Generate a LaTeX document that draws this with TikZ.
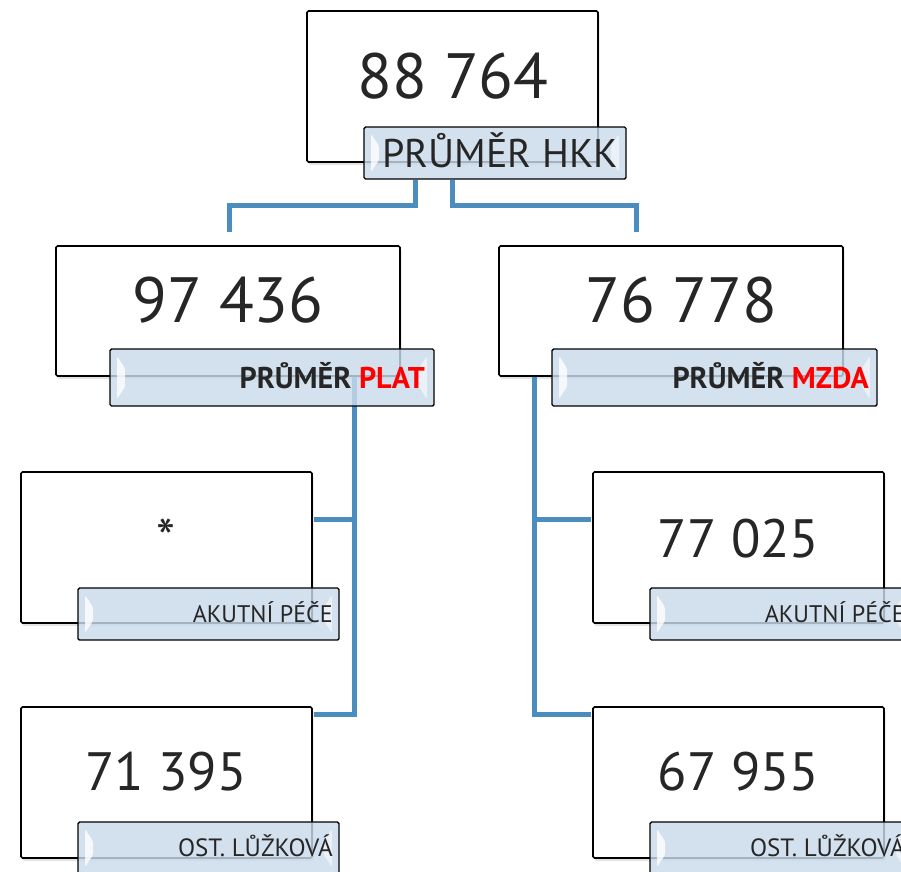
\documentclass[tikz,border=0pt]{standalone}
\usepackage{fontspec}
\setmainfont{PT Sans}
\usetikzlibrary{calc,shadows}
\definecolor{ink}{HTML}{262626}
\definecolor{labfill}{HTML}{CADAEA}
\definecolor{linkblue}{HTML}{4A8DBE}
\definecolor{hot}{HTML}{FF0000}
\tikzset{
  numbox/.style={draw=black, line width=1.6pt, fill=white, rounded corners=1.5pt,
    inner sep=0pt, drop shadow={shadow xshift=1.5pt, shadow yshift=-3pt, opacity=0.22}},
  tagbox/.style={draw=black, line width=1.4pt, fill=labfill, fill opacity=0.82,
    rounded corners=1.5pt, inner sep=0pt,
    path picture={
      \fill[white, opacity=0.8]
        ([xshift=7pt,yshift=-7pt]path picture bounding box.north west) --
        ([xshift=15pt,yshift=-19pt]path picture bounding box.north west) --
        ([xshift=15pt,yshift=19pt]path picture bounding box.south west) --
        ([xshift=7pt,yshift=7pt]path picture bounding box.south west) -- cycle;
      \fill[white, opacity=0.55]
        ([xshift=-7pt,yshift=-7pt]path picture bounding box.north east) --
        ([xshift=-15pt,yshift=-19pt]path picture bounding box.north east) --
        ([xshift=-15pt,yshift=19pt]path picture bounding box.south east) --
        ([xshift=-7pt,yshift=7pt]path picture bounding box.south east) -- cycle;
    }},
  bignum/.style={inner sep=0pt, anchor=base, text=ink, font=\fontsize{64}{70}\selectfont},
  midnum/.style={inner sep=0pt, anchor=base, text=ink, font=\fontsize{54}{58}\selectfont},
  tagtext/.style={inner sep=0pt, anchor=base east, text=ink},
  conn/.style={draw=linkblue, line width=5pt}
}
\begin{document}
\begin{tikzpicture}[x=1pt, y=-1pt]
  \useasboundingbox (0,0) rectangle (901,871);
  \clip (0,0) rectangle (901,871);

  % value boxes
  \node[numbox, minimum width=291, minimum height=151] (b0) at (452.5,86.5) {};
  \node[numbox, minimum width=344, minimum height=130] (b1) at (228,311) {};
  \node[numbox, minimum width=344, minimum height=130] (b2) at (671,311) {};
  \node[numbox, minimum width=291, minimum height=151] (b3) at (166.5,547.5) {};
  \node[numbox, minimum width=291, minimum height=151] (b4) at (738.5,547.5) {};
  \node[numbox, minimum width=291, minimum height=151] (b5) at (166.5,782.5) {};
  \node[numbox, minimum width=291, minimum height=151] (b6) at (738.5,782.5) {};

  % connectors
  \coordinate (e1) at (229,232);
  \coordinate (e2) at (636,232);
  \draw[conn] ($(b0.south west)+(109,17)$) -- ++(0,26) -| (e1);
  \draw[conn] ($(b0.south west)+(146,17)$) -- ++(0,26) -| (e2);

  \coordinate (t1) at ($(b1.south west)+(299,0)$);
  \coordinate (h3) at ($(b3.north east)+(1,48)$);
  \draw[conn] (t1) |- ($(b5.north east)+(1,8)$);
  \draw[conn] (h3) -- (h3 -| t1);

  \coordinate (t2) at ($(b2.south west)+(36,0)$);
  \coordinate (h4) at ($(b4.north west)+(-1,48)$);
  \draw[conn] (t2) |- ($(b6.north west)+(-1,8)$);
  \draw[conn] (h4) -- (h4 -| t2);

  % caption tags
  \node[tagbox, minimum width=262, minimum height=52] (l0) at (495,153) {};
  \node[tagbox, minimum width=324, minimum height=57] (l1) at (272,377.5) {};
  \node[tagbox, minimum width=325, minimum height=57] (l2) at (714.5,377.5) {};
  \node[tagbox, minimum width=261, minimum height=52] (l3) at (208.5,614) {};
  \node[tagbox, minimum width=261, minimum height=52] (l4) at (780.5,614) {};
  \node[tagbox, minimum width=261, minimum height=52] (l5) at (208.5,848) {};
  \node[tagbox, minimum width=261, minimum height=52] (l6) at (780.5,848) {};

  % values
  \node[bignum] (n0) at (453,98) {88 764};
  \node[bignum] (n1) at (228,322) {97 436};
  \node[bignum] (n2) at (681.5,322) {76 778};
  \node[midnum] (n3) at (166,557) {*};
  \node[midnum] (n4) at (738.5,557) {77 025};
  \node[midnum] (n5) at (166,790) {71 395};
  \node[midnum] (n6) at (738.5,790) {67 955};

  % captions
  \node[tagtext, font=\fontsize{40}{44}\selectfont] (c0) at (618,167) {PRŮMĚR HKK};
  \node[tagtext, font=\bfseries\fontsize{30}{34}\selectfont] (c1) at (425,388) {PRŮMĚR \textcolor{hot}{PLAT}};
  \node[tagtext, font=\bfseries\fontsize{30}{34}\selectfont] (c2) at (869,388) {PRŮMĚR \textcolor{hot}{MZDA}};
  \node[tagtext, font=\fontsize{24}{28}\selectfont] (c3) at (333,622) {AKUTNÍ PÉČE};
  \node[tagtext, font=\fontsize{24}{28}\selectfont] (c4) at (905,622) {AKUTNÍ PÉČE};
  \node[tagtext, font=\fontsize{25}{28}\selectfont] (c5) at (333,856) {OST. LŮŽKOVÁ};
  \node[tagtext, font=\fontsize{25}{28}\selectfont] (c6) at (905,856) {OST. LŮŽKOVÁ};
\end{tikzpicture}
\end{document}
